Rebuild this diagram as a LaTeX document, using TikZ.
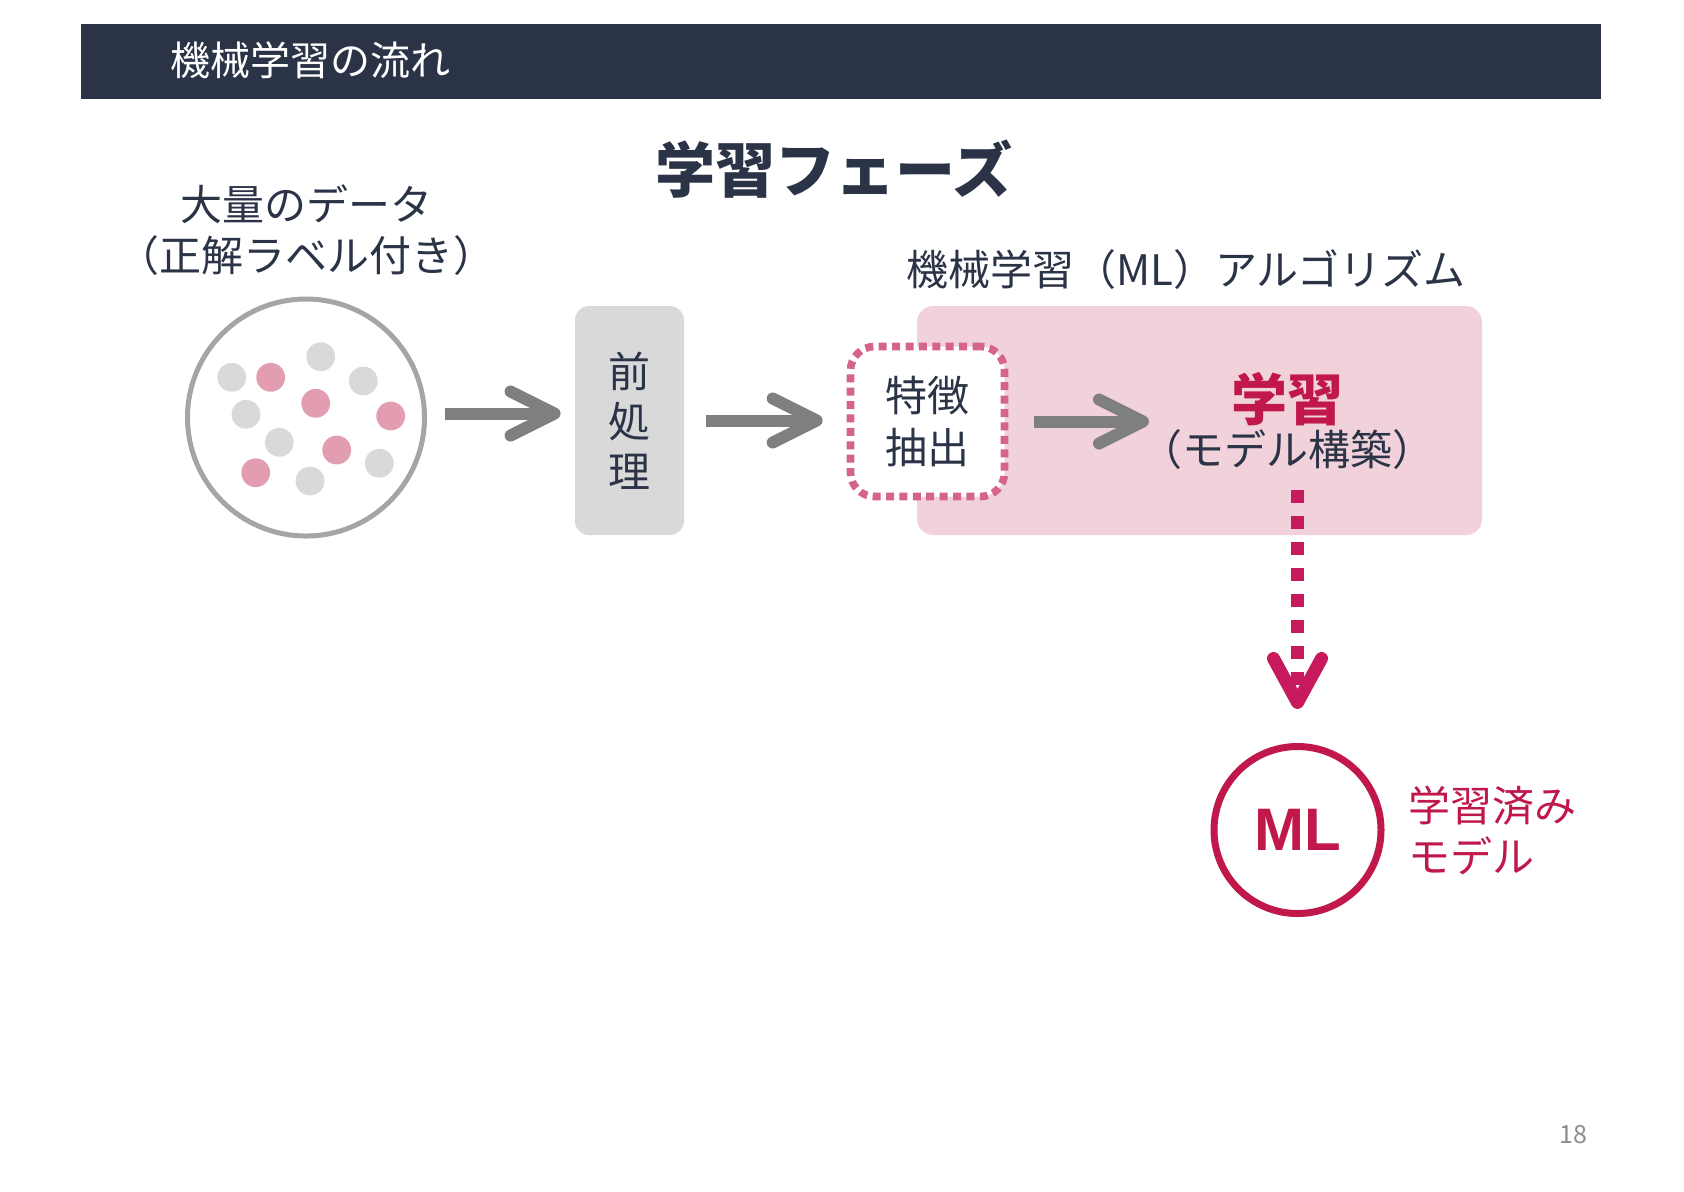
\documentclass[tikz,border=0pt]{standalone}
\usepackage{fontspec}
\setmainfont{Noto Sans CJK JP}
\newfontfamily\mlfont{Liberation Sans}
\usepackage{tikz}
\usetikzlibrary{positioning, calc, arrows.meta}

\definecolor{navy}{HTML}{2B3346}
\definecolor{dotgray}{HTML}{D9D9D9}
\definecolor{dotpink}{HTML}{E39DB0}
\definecolor{ringgray}{HTML}{A5A5A5}
\definecolor{arrowgray}{HTML}{7F7F7F}
\definecolor{boxgray}{HTML}{D9D9D9}
\definecolor{algopink}{HTML}{F1D2DB}
\definecolor{featpink}{HTML}{D6648A}
\definecolor{crimson}{HTML}{C0184B}
\definecolor{magentared}{HTML}{C71A5C}
\definecolor{pagegray}{HTML}{8C8C8C}

\tikzset{
    txt/.style={inner sep=0pt, text=navy, font=\fontsize{21pt}{25.5pt}\selectfont},
    flowarrow/.style={draw=arrowgray, line width=6pt, -{Straight Barb[length=22pt,width=22pt,round]}},
    mlarrow/.style={draw=magentared, line width=6.5pt, dash pattern=on 6.5pt off 6.5pt,
        -{Straight Barb[length=22pt,width=24pt,round]}},
    datacircle/.style={circle, draw=ringgray, line width=2.5pt, minimum size=118.5pt, inner sep=0pt},
    prebox/.style={txt, fill=boxgray, rounded corners=7pt, minimum width=54.5pt,
        minimum height=114.5pt, align=center, font=\fontsize{21pt}{25pt}\selectfont},
    algobox/.style={fill=algopink, rounded corners=8pt, minimum width=282.5pt,
        minimum height=114.5pt, inner sep=0pt},
    featbox/.style={txt, draw=featpink, fill=white, line width=3.8pt,
        dash pattern=on 4pt off 2.7pt, rounded corners=12pt, minimum width=77pt,
        minimum height=75pt, align=center},
    mlcircle/.style={circle, draw=crimson, line width=3.5pt, minimum size=83.5pt, inner sep=0pt,
        text=crimson, font=\mlfont\bfseries\fontsize{30pt}{30pt}\selectfont}
}

\begin{document}
\begin{tikzpicture}[x=0.5pt, y=-0.5pt]
    \useasboundingbox (0,0) rectangle (1684,1191);
    \node[fill=navy, minimum width=760.25pt, minimum height=37.6pt, inner sep=0pt] (bar) at (840.75,61.2) {};
    \node[inner sep=0pt, anchor=west, text=white, font=\fontsize{20pt}{24pt}\selectfont] (head) at (170,60) {機械学習の流れ};
    \node[inner sep=0pt, text=navy, font=\bfseries\fontsize{30pt}{32pt}\selectfont] (title) at (834,169) {学習フェーズ};

    \node[txt, align=center] (datalbl) at (306,230) {大量のデータ\\（正解ラベル付き）};
    \node[datacircle] (data) at (306,417.5) {};
    \foreach \x/\y/\c in {231.7/377.3/dotgray, 270.7/377.3/dotpink, 320.7/356.7/dotgray,
        363.3/381/dotgray, 246/414.3/dotgray, 315.7/403.3/dotpink, 390.7/416/dotpink,
        279.3/442.3/dotgray, 336.7/450/dotpink, 379.3/463.3/dotgray, 255.7/472.7/dotpink,
        310/481/dotgray}
        \fill[\c] (\x,\y) circle (7.2pt);

    \node[prebox] (pre) at (629.5,420.5) {前\\処\\理};

    \node[algobox] (algo) at (1199.5,420.5) {};
    \node[txt] (algolbl) at (1186,270) {機械学習（ML）アルゴリズム};
    \node[featbox] (feat) at (927.5,421.5) {特徴\\抽出};
    \node[inner sep=0pt, text=crimson, font=\bfseries\fontsize{28pt}{30pt}\selectfont] (learn) at (1287,399) {学習};
    \node[txt] (build) at (1287,450) {（モデル構築）};
    \coordinate (a3) at (1149,421.5);

    \node[mlcircle] (ml) at (1297.5,830) {ML};
    \node[txt, text=crimson, align=left] (mllbl) [right=12pt of ml] {学習済み\\モデル};

    \node[inner sep=0pt, text=pagegray, font=\fontsize{12.5pt}{14pt}\selectfont] (page) at (1573,1135) {18};

    \draw[flowarrow, shorten <=9pt, shorten >=7pt] ([yshift=2pt]data.east) -- ([yshift=2pt]data.east -| pre.west);
    \draw[flowarrow, shorten <=11pt, shorten >=12pt] (pre.east) -- (pre.east -| feat.west);
    \draw[flowarrow, shorten <=13pt] (feat.east) -- (a3);
    \draw[mlarrow, shorten <=10pt, shorten >=17pt] (ml.north |- build.south) -- (ml.north);
\end{tikzpicture}
\end{document}
